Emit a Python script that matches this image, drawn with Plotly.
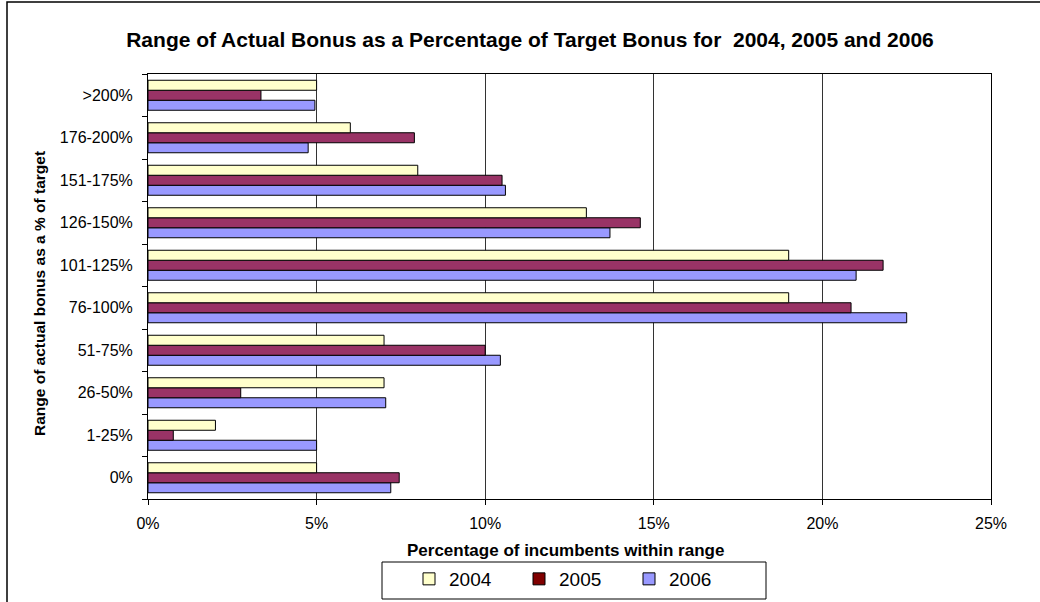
import plotly.graph_objects as go

categories = ["0%", "1-25%", "26-50%", "51-75%", "76-100%", "101-125%",
              "126-150%", "151-175%", "176-200%", ">200%"]
v2004 = [5.0, 2.0, 7.0, 7.0, 19.0, 19.0, 13.0, 8.0, 6.0, 5.0]
v2005 = [7.45, 0.75, 2.75, 10.0, 20.85, 21.8, 14.6, 10.5, 7.9, 3.35]
v2006 = [7.2, 5.0, 7.05, 10.45, 22.5, 21.0, 13.7, 10.6, 4.75, 4.95]
years = ["2004", "2005", "2006"]
bar_colors = {"2004": "#FFFFCC", "2005": "#993366", "2006": "#9999FF"}
legend_colors = {"2004": "#FFFFCC", "2005": "#800000", "2006": "#9999FF"}
series = {"2004": v2004, "2005": v2005, "2006": v2006}

FONT = "Arial, Liberation Sans, sans-serif"

fig = go.Figure()
# plotly stacks grouped horizontal bars bottom-up, so add in reverse
for yr in reversed(years):
    fig.add_trace(go.Bar(
        y=categories, x=series[yr], orientation="h", name=yr,
        marker=dict(color=bar_colors[yr], line=dict(color="black", width=1)),
        showlegend=False, legendgroup=yr, hoverinfo="x+y",
    ))
# legend-only entries (on a hidden overlay axis so they don't affect grouping)
for yr in years:
    fig.add_trace(go.Bar(
        y=[None], x=[None], orientation="h", name=yr, yaxis="y2",
        marker=dict(color=legend_colors[yr], line=dict(color="black", width=1)),
        showlegend=True, legendgroup=yr,
    ))

W, H = 1040, 602
L, R, T, B = 148, 49, 74, 103
pw, ph = W - L - R, H - T - B

def px(x):
    return (x - L) / pw

def py(y):
    return (H - B - y) / ph

fig.update_layout(
    width=W, height=H,
    margin=dict(l=L, r=R, t=T, b=B, autoexpand=False),
    paper_bgcolor="white", plot_bgcolor="white",
    font=dict(family=FONT, size=16, color="black"),
    barmode="group", bargap=0.294, bargroupgap=0,
    title=dict(
        text="<b>Range of Actual Bonus as a Percentage of Target Bonus for  2004, 2005 and 2006</b>",
        x=530 / W, xref="container", xanchor="center",
        y=1 - 40 / H, yref="container", yanchor="middle",
        font=dict(family=FONT, size=21, color="black"),
    ),
    xaxis=dict(
        range=[0, 25], dtick=5, tick0=0, ticksuffix="%",
        showgrid=True, gridcolor="#333333", gridwidth=1,
        showline=True, linecolor="black", linewidth=1, mirror=True,
        ticks="outside", ticklen=5, tickcolor="black",
        tickfont=dict(size=16), zeroline=False, fixedrange=True,
        automargin=False, ticklabelstandoff=5,
    ),
    yaxis=dict(
        type="category", categoryorder="array", categoryarray=categories,
        showline=True, linecolor="black", linewidth=1, mirror=True,
        ticks="outside", ticklen=5, tickcolor="black", tickson="boundaries",
        tickfont=dict(size=16), showgrid=False, fixedrange=True,
        ticklabelstandoff=11, automargin=False,
    ),
    yaxis2=dict(overlaying="y", visible=False, fixedrange=True),
    legend=dict(
        orientation="h", x=px(409), xanchor="left", y=py(560), yanchor="top",
        borderwidth=0, bgcolor="rgba(0,0,0,0)", font=dict(size=19),
        entrywidth=65, entrywidthmode="pixels", traceorder="normal",
    ),
    annotations=[
        dict(text="<b>Range of actual bonus as a % of target</b>", textangle=-90,
             x=px(39), y=py(294), xref="paper", yref="paper",
             xanchor="center", yanchor="middle", showarrow=False,
             font=dict(family=FONT, size=15.5)),
        dict(text="<b>Percentage of incumbents within range</b>",
             x=px(565), y=py(550), xref="paper", yref="paper",
             xanchor="center", yanchor="middle", showarrow=False,
             font=dict(family=FONT, size=17)),
    ],
    shapes=[
        dict(type="rect", xref="paper", yref="paper",
             x0=px(7), x1=px(1060), y0=py(620), y1=py(2),
             line=dict(color="black", width=1.5), fillcolor="rgba(0,0,0,0)",
             layer="below"),
        dict(type="rect", xref="paper", yref="paper",
             x0=px(382), x1=px(766), y0=py(599), y1=py(562),
             line=dict(color="black", width=1), fillcolor="white",
             layer="below"),
    ],
)

fig.write_html("out.html")
